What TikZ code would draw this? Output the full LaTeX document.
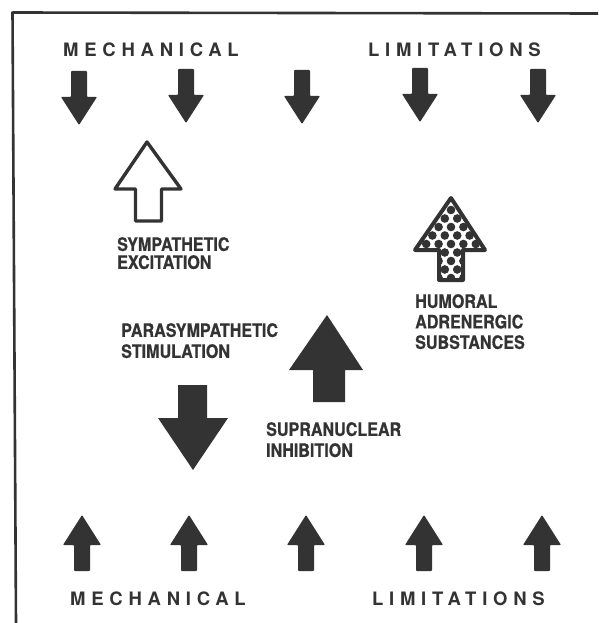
\documentclass[tikz,border=0pt]{standalone}
\usepackage{fontspec}
\setmainfont{TeX Gyre Heros}
\newfontfamily\lab{TeX Gyre Heros}[FakeStretch=0.87,FakeBold=0.6]
\newfontfamily\head{TeX Gyre Heros}[LetterSpace=31]
\definecolor{ink}{HTML}{333333}
\begin{document}
\begin{tikzpicture}[x=1pt,y=-1pt,
  dnarrow/.pic={\fill[ink,rounded corners=0.8pt] (-8,-54) -- (8,-54) -- (8,-28) -- (18,-28) -- (0,0) -- (-18,-28) -- (-8,-28) -- cycle;},
  uparrow/.pic={\fill[ink,rounded corners=0.8pt] (0,0) -- (19,30) -- (8,30) -- (8,56) -- (-8,56) -- (-8,30) -- (-19,30) -- cycle;},
  lbl/.style={inner sep=0pt, align=left, text=ink, anchor=north west},
  hd/.style={inner sep=0pt, text=ink, anchor=west, font=\head\bfseries\fontsize{18.5}{20}\selectfont}]
\useasboundingbox (0,0) rectangle (598,623);
% frame
\draw[ink,line width=2.6pt] (12.5,12.5) -- (598,13.5);
\draw[ink,line width=2.6pt] (12.5,11.5) -- (16,623);
% headings
\node[hd] (mech1) at (63,50) {MECHANICAL};
\node[hd] (lim1) at (368,50) {LIMITATIONS};
\node[hd] (mech2) at (70,598.5) {MECHANICAL};
\node[hd] (lim2) at (372,598.5) {LIMITATIONS};
% top row arrows
\pic at (79,125) {dnarrow};
\pic at (186,123) {dnarrow};
\pic at (302,124) {dnarrow};
\pic at (420,122) {dnarrow};
\pic at (538,123) {dnarrow};
% bottom row arrows
\pic at (82,515) {uparrow};
\pic at (189,515) {uparrow};
\pic at (306,515) {uparrow};
\pic at (424,515) {uparrow};
\pic at (542,515) {uparrow};
% sympathetic (outline)
\draw[ink,line width=3.4pt,line join=round,fill=white] (147,142) -- (181,189) -- (161.5,189) -- (161.5,221) -- (135.5,221) -- (135.5,189) -- (115,189) -- cycle;
\node[lbl, font=\lab\bfseries\fontsize{18.5}{18}\selectfont] (symp) at (117,237) {SYMPATHETIC\\EXCITATION};
% humoral (dotted)
\begin{scope}
\clip (451,198) -- (485,250) -- (463,250) -- (463,280) -- (439,280) -- (439,250) -- (415,250) -- cycle;
\foreach \j in {0,...,9}{
  \foreach \k in {-7,...,7}{
    \pgfmathtruncatemacro\pp{mod(abs(\j+\k),2)}
    \ifnum\pp=0 \fill[ink] ({451+\k*6.2},{210+\j*8.5}) circle[radius=4.3pt]; \fi
  }
}
\end{scope}
\draw[ink,line width=4pt,line join=round] (451,198) -- (485,250) -- (463,250) -- (463,280) -- (439,280) -- (439,250) -- (415,250) -- cycle;
\node[lbl, font=\lab\bfseries\fontsize{18.5}{20.5}\selectfont] (hum) at (415,294) {HUMORAL\\ADRENERGIC\\SUBSTANCES};
% parasympathetic
\node[lbl, font=\lab\bfseries\fontsize{18.5}{21}\selectfont] (para) at (121,323) {PARASYMPATHETIC\\STIMULATION};
\fill[ink] (178,385) -- (207,385) -- (207,418) -- (228,418) -- (193,470) -- (158,418) -- (178,418) -- cycle;
% supranuclear
\fill[ink] (327,315) -- (363,370) -- (345,370) -- (345,402) -- (313,402) -- (313,370) -- (289,370) -- cycle;
\node[lbl, font=\lab\bfseries\fontsize{18.5}{21}\selectfont] (supra) at (266,422) {SUPRANUCLEAR\\INHIBITION};
\end{tikzpicture}
\end{document}
